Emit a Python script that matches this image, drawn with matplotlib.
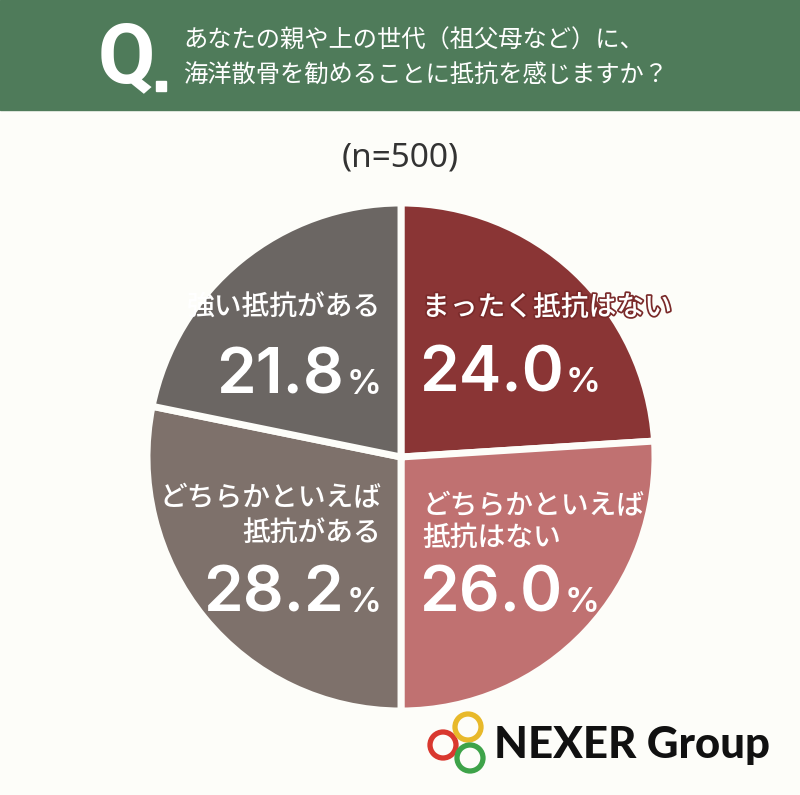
import matplotlib
matplotlib.use("Agg")
import matplotlib.pyplot as plt
from matplotlib.patches import Rectangle, Circle
import matplotlib.patheffects as pe

plt.rcParams['font.family'] = ['Noto Sans CJK JP', 'DejaVu Sans']

# data
labels = ["まったく抵抗はない", "どちらかといえば\n抵抗はない", "どちらかといえば\n抵抗がある", "強い抵抗がある"]
values = [24.0, 26.0, 28.2, 21.8]
colors = ["#8a3535", "#c07171", "#7e716b", "#6b6663"]
question = ["あなたの親や上の世代（祖父母など）に、", "海洋散骨を勧めることに抵抗を感じますか？"]
n_text = "(n=500)"

W, H = 800, 795
fig = plt.figure(figsize=(W / 100, H / 100), dpi=100, facecolor="#fdfdf9")
ax = fig.add_axes([0, 0, 1, 1])
ax.set_xlim(0, W)
ax.set_ylim(0, H)
ax.set_aspect("equal")
ax.axis("off")


def Y(y):
    return H - y


# header
ax.add_patch(Rectangle((0, Y(110)), W, 110, color="#4f7b5a", zorder=1))
ax.text(126, Y(60), "Q", color="white", fontsize=60, fontweight="bold",
        ha="center", va="center", family=["Roboto", "DejaVu Sans"])
ax.add_patch(Rectangle((156, Y(91)), 10, 10, color="white", zorder=2))
ax.text(183, Y(41), question[0], color="white", fontsize=17.5, ha="left", va="center")
ax.text(183, Y(76), question[1], color="white", fontsize=17.5, ha="left", va="center")

ax.text(400, Y(158), n_text, color="#333333", fontsize=24, ha="center", va="center",
        family=["Noto Sans", "DejaVu Sans"])

# pie
ax.pie(values, colors=colors, startangle=90, counterclock=False,
       center=(401, Y(457)), radius=254, frame=True,
       wedgeprops=dict(edgecolor="#fdfdf9", linewidth=5))
ax.set_xlim(0, W)
ax.set_ylim(0, H)
ax.axis("off")

# labels: (x, y of lines, align, y of pct)
lab_pos = [
    (422, [307], "left", 370),
    (422, [505, 537], "left", 590),
    (381, [497, 532], "right", 590),
    (381, [307], "right", 372),
]

fig.canvas.draw()
r = fig.canvas.get_renderer()
for i, (x, ys, ha, yp) in enumerate(lab_pos):
    for line, yy in zip(labels[i].split("\n"), ys):
        t = ax.text(x, Y(yy), line, color="white", fontsize=20, fontweight="medium",
                    ha=ha, va="center", zorder=6)
        if i == 0:
            t.set_path_effects([pe.withStroke(linewidth=2.5, foreground="#7a2a2a")])
    num = f"{values[i]:.1f}"
    if ha == "left":
        tn = ax.text(x - 3, Y(yp + 22), num, color="white", fontsize=46, fontweight="semibold",
                     ha="left", va="baseline", family=["Inter", "DejaVu Sans"], zorder=6)
        bb = tn.get_window_extent(renderer=r)
        ax.text(bb.x1 + 2, Y(yp + 22), "%", color="white", fontsize=25,
                fontweight="semibold", ha="left", va="baseline",
                family=["Inter", "DejaVu Sans"], zorder=6)
    else:
        tp = ax.text(x, Y(yp + 22), "%", color="white", fontsize=25,
                     fontweight="semibold", ha="right", va="baseline",
                     family=["Inter", "DejaVu Sans"], zorder=6)
        bb = tp.get_window_extent(renderer=r)
        ax.text(bb.x0 - 2, Y(yp + 22), num, color="white", fontsize=46,
                fontweight="semibold", ha="right", va="baseline",
                family=["Inter", "DejaVu Sans"], zorder=6)

# logo
for (cx, cy), c in zip([(443, 745), (468, 727), (470, 758)],
                       ["#d9382f", "#e8b92a", "#3ea349"]):
    ax.add_patch(Circle((cx, Y(cy)), 13, fill=False, edgecolor=c, linewidth=3.8, zorder=5))
ax.text(494, Y(745), "NEXER Group", color="#111111", fontsize=31.5, fontweight="black",
        ha="left", va="center", family=["Lato", "DejaVu Sans"])

fig.savefig("out.png", dpi=100, facecolor=fig.get_facecolor())
